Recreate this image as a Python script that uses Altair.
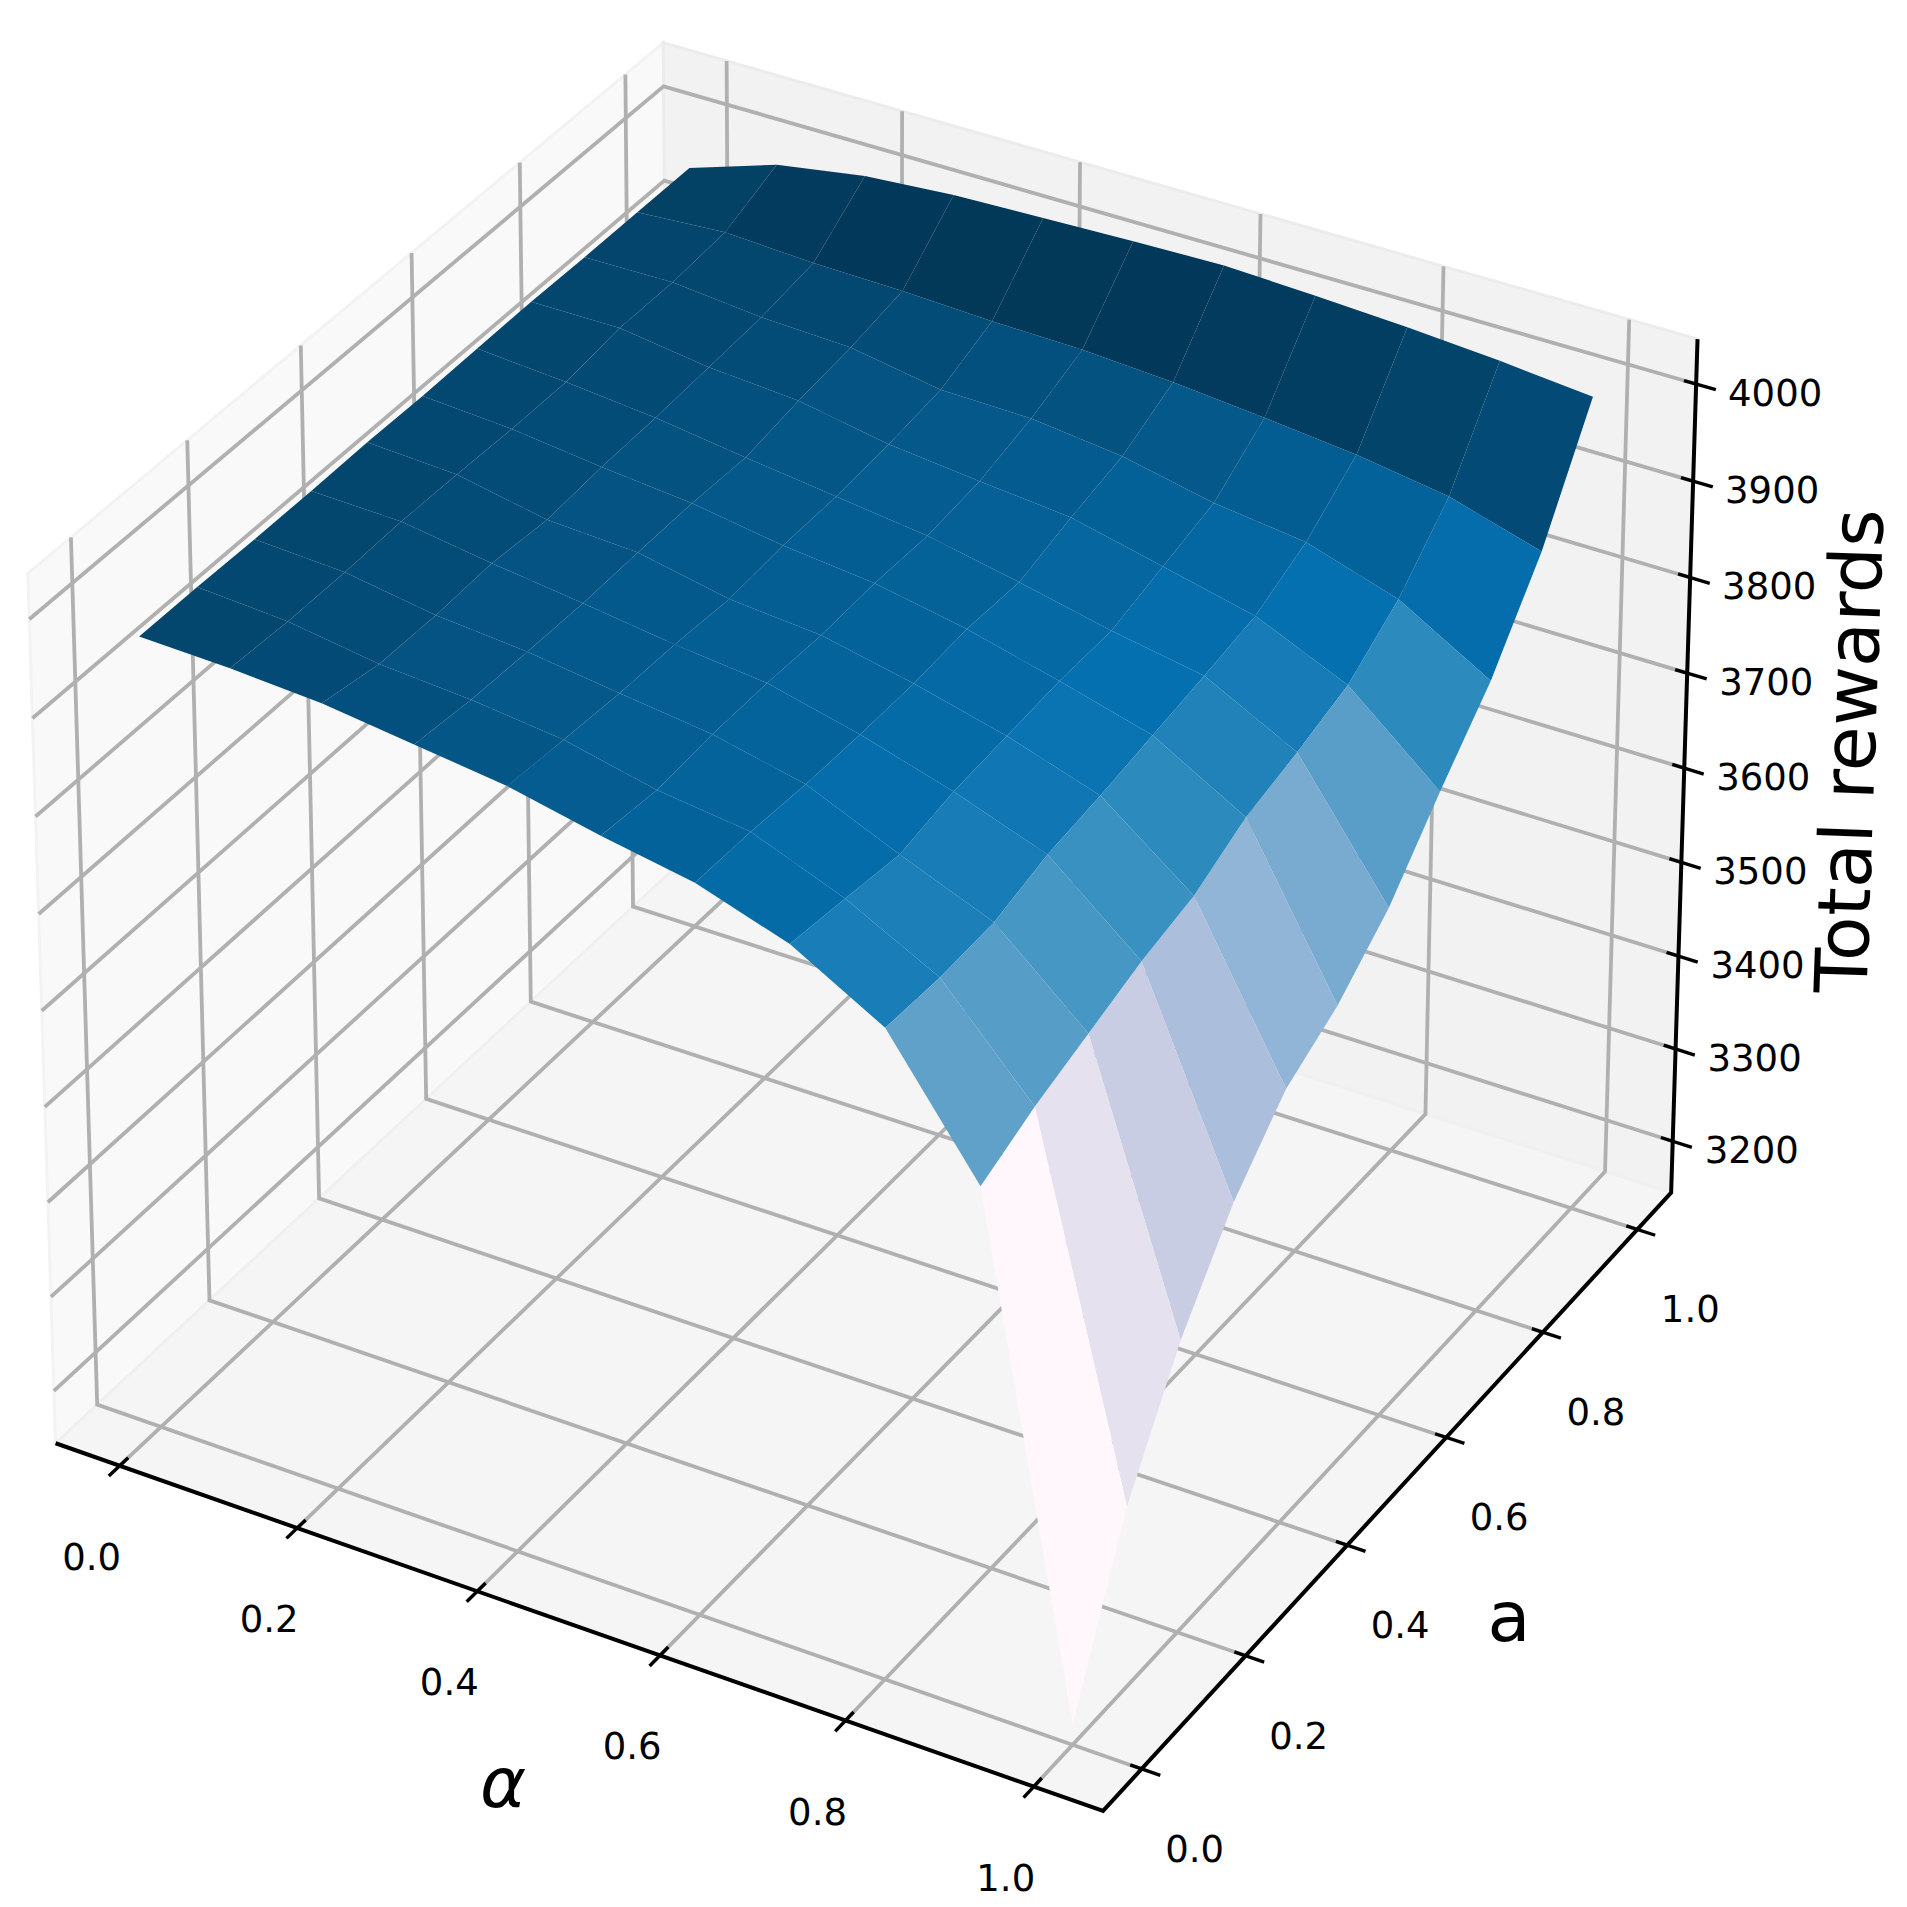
import altair as alt, numpy as np, pandas as pd

# Total rewards: one row per alpha (0.0 .. 1.0), one column per a (0.0 .. 1.0)
Z_ROWS = [
    [3967,3967,3966,3966,3967,3966,3967,3968,3967,3967,3967],
    [3964,3961,3961,3963,3962,3960,3960,3968,3968,3973,3997],
    [3958,3947,3946,3949,3944,3949,3951,3955,3959,3968,4012],
    [3946,3940,3938,3937,3939,3940,3938,3948,3955,3966,4019],
    [3934,3929,3925,3924,3920,3925,3926,3931,3939,3962,4022],
    [3914,3908,3913,3914,3912,3915,3914,3921,3937,3960,4025],
    [3897,3896,3892,3891,3892,3897,3895,3912,3926,3954,4027],
    [3866,3859,3851,3863,3868,3873,3874,3890,3906,3945,4023],
    [3813,3810,3813,3829,3837,3847,3857,3868,3894,3935,4018],
    [3685,3711,3731,3751,3765,3793,3808,3826,3864,3920,4011],
    [3165,3334,3449,3536,3598,3630,3678,3746,3809,3892,4002],
]
ALPHA = [i/10 for i in range(11)]
A_VAL = [i/10 for i in range(11)]
XY_TICKS = [0.0,0.2,0.4,0.6,0.8,1.0]
XY_LABELS = ["0.0","0.2","0.4","0.6","0.8","1.0"]
Z_TICKS = [3200,3300,3400,3500,3600,3700,3800,3900,4000]
PUBU = ["#fff7fb","#ece7f2","#d0d1e6","#a6bddb","#74a9cf","#3690c0","#0570b0","#045a8d","#023858"]

LO, HI = -0.0729, 1.0729      # pane limits of both horizontal axes
ZLO, ZHI = 3144, 4046         # pane limits of the vertical axis
CAMERA = np.array([[887.77008,585.16303,-16.154205,149.07396],
                   [259.76368,-451.98538,-500.05075,994.92259],
                   [-0.036426216,0.06139308,-0.018510996,1.0]])

def project(x, y, z):
    h = CAMERA @ np.array([x, y, (z-3600)/500, 1.0])
    return h[0]/h[2], h[1]/h[2]

def hexcolor(t):
    t = np.floor(t*255)/255
    s = np.linspace(0, 1, len(PUBU))
    rgb = [[int(c[k:k+2],16) for c in PUBU] for k in (1,3,5)]
    return '#%02x%02x%02x' % tuple(int(round(np.interp(t, s, ch))) for ch in rgb)

def path_rows(pid, pts, **extra):
    out = []
    for k, (x,y,z) in enumerate(pts):
        u, v = project(x,y,z)
        out.append(dict(pid=pid, k=k, u=u, v=v, **extra))
    return out

XS = alt.Scale(domain=[8,1899], nice=False, zero=False)
YS = alt.Scale(domain=[8,1899], reverse=True, nice=False, zero=False)
ex = alt.X('u:Q', scale=XS, axis=None)
ey = alt.Y('v:Q', scale=YS, axis=None)

# panes
pane_rows = []
pane_rows += path_rows('left', [(LO,LO,ZLO),(LO,HI,ZLO),(LO,HI,ZHI),(LO,LO,ZHI)], f='#f9f9f9', e='#f3f3f3')
pane_rows += path_rows('back', [(LO,HI,ZLO),(HI,HI,ZLO),(HI,HI,ZHI),(LO,HI,ZHI)], f='#f2f2f2', e='#ececec')
pane_rows += path_rows('floor', [(LO,LO,ZLO),(HI,LO,ZLO),(HI,HI,ZLO),(LO,HI,ZLO)], f='#f5f5f5', e='#f0f0f0')
panes = alt.Chart(pd.DataFrame(pane_rows)).mark_line(filled=True, interpolate='linear-closed', strokeWidth=3).encode(
    x=ex, y=ey, detail='pid:N', order='k:Q', fill=alt.Fill('f:N', scale=None), stroke=alt.Stroke('e:N', scale=None))

# grid
grid_rows = []
for t in XY_TICKS:
    grid_rows += path_rows(f'gx{t}', [(t,LO,ZLO),(t,HI,ZLO),(t,HI,ZHI)])
    grid_rows += path_rows(f'gy{t}', [(HI,t,ZLO),(LO,t,ZLO),(LO,t,ZHI)])
for t in Z_TICKS:
    grid_rows += path_rows(f'gz{t}', [(LO,LO,t),(LO,HI,t),(HI,HI,t)])
grid = alt.Chart(pd.DataFrame(grid_rows)).mark_line(color='#b0b0b0', strokeWidth=3.8, strokeJoin='miter').encode(
    x=ex, y=ey, detail='pid:N', order='k:Q')

# axes and ticks
axis_rows = path_rows('axis', [(LO,LO,ZLO),(HI,LO,ZLO),(HI,HI,ZLO),(HI,HI,ZHI)])
axes = alt.Chart(pd.DataFrame(axis_rows)).mark_line(color='black', strokeWidth=4, strokeJoin='miter').encode(
    x=ex, y=ey, detail='pid:N', order='k:Q')
tick_rows = []
for t in XY_TICKS:
    tick_rows += path_rows(f'tx{t}', [(t,LO+0.015,ZLO),(t,LO-0.019,ZLO)])
    tick_rows += path_rows(f'ty{t}', [(HI-0.012,t,ZLO),(HI+0.0196,t,ZLO)])
for t in Z_TICKS:
    tick_rows += path_rows(f'tz{t}', [(HI-0.013,HI,t),(HI+0.021,HI,t)])
ticks = alt.Chart(pd.DataFrame(tick_rows)).mark_line(color='black', strokeWidth=3.4).encode(
    x=ex, y=ey, detail='pid:N', order='k:Q')

# surface
Z = np.array(Z_ROWS, float)
avg = (Z[:-1,:-1]+Z[1:,:-1]+Z[:-1,1:]+Z[1:,1:])/4
tn = (avg-avg.min())/(avg.max()-avg.min())
cells = []
for i in range(10):
    for j in range(10):
        xm, ym, zm = (ALPHA[i]+ALPHA[i+1])/2, (A_VAL[j]+A_VAL[j+1])/2, (avg[i,j]-3600)/1000
        cells.append((0.433*xm-0.75*ym+0.5*zm, i, j))
cells.sort()
surf_rows = []
for n, (_, i, j) in enumerate(cells):
    c = hexcolor(tn[i,j])
    pts = [(ALPHA[i],A_VAL[j],Z[i,j]),(ALPHA[i+1],A_VAL[j],Z[i+1,j]),(ALPHA[i+1],A_VAL[j+1],Z[i+1,j+1]),(ALPHA[i],A_VAL[j+1],Z[i,j+1])]
    surf_rows += path_rows(f'c{n:03d}', pts, c=c)
surface = alt.Chart(pd.DataFrame(surf_rows)).mark_line(filled=True, interpolate='linear-closed', strokeWidth=0).encode(
    x=ex, y=ey, detail='pid:N', order='k:Q', fill=alt.Fill('c:N', scale=None))

# tick labels
def tick_labels(pts, labels, dx, dy):
    rows = [dict(u=project(*p)[0], v=project(*p)[1], s=s) for p, s in zip(pts, labels)]
    return alt.Chart(pd.DataFrame(rows)).mark_text(font='DejaVu Sans', fontSize=37, color='black', align='center',
        baseline='middle', dx=dx, dy=dy).encode(x=ex, y=ey, text='s:N')
lx = tick_labels([(t,LO,ZLO) for t in XY_TICKS], XY_LABELS, -28, 93)
ly = tick_labels([(HI,t,ZLO) for t in XY_TICKS], XY_LABELS, 53, 82)
lz = tick_labels([(HI,HI,t) for t in Z_TICKS], [str(t) for t in Z_TICKS], 79, 11)

# axis titles
def title(s, px, py, angle=0, size=70, **kw):
    return alt.Chart(pd.DataFrame({'s':[s]})).mark_text(font='DejaVu Sans', fontSize=size, color='black', align='center',
        baseline='middle', angle=angle, **kw).encode(x=alt.value(px-8), y=alt.value(py-8), text='s:N')
t1 = title('α', 503, 1786, fontStyle='italic')
t2 = title('a', 1509, 1620)
t3 = title('Total rewards', 1853, 751, angle=272, size=73)

chart = alt.layer(panes, grid, axes, ticks, surface, lx, ly, lz, t1, t2, t3).properties(
    width=1891, height=1891, padding=0, autosize=alt.AutoSizeParams(type='none')
).configure_view(stroke=None)
chart.save("out.html", embed_options={"renderer":"svg","actions":False})
